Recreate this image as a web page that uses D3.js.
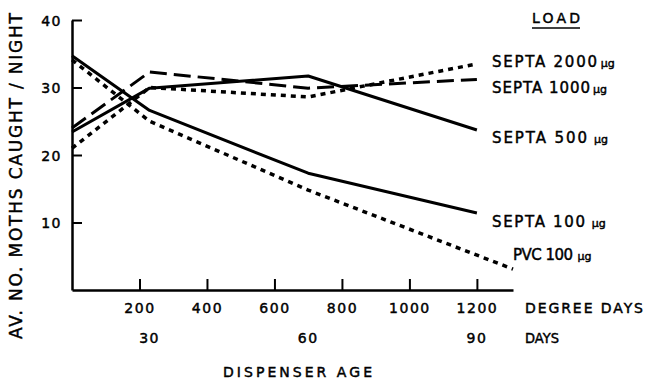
<!DOCTYPE html>
<html>
<head>
<meta charset="utf-8">
<script src="https://cdn.jsdelivr.net/npm/d3@7/dist/d3.min.js"></script>
<style>
  body { margin: 0; background: #fff; }
  svg { display: block; }
  text { font-family: "DejaVu Sans", sans-serif; fill: #000; stroke: #000; stroke-width: 0.45px; }
</style>
</head>
<body>
<div id="chart"></div>
<script>
// ---- data ----
const degreeDays = [0, 230, 700, 1200];
const pvcDegreeDays = [0, 230, 700, 1307];
const septa2000 = [21.0, 30.0, 28.6, 33.5];
const septa1000 = [24.0, 32.3, 29.9, 31.2];
const septa500 = [23.4, 29.9, 31.7, 23.7];
const septa100 = [34.7, 26.6, 17.3, 11.4];
const pvc100 = [34.1, 25.0, 14.8, 3.1];

const yTicks = [10, 20, 30, 40];
const xTicks = [200, 400, 600, 800, 1000, 1200];
const dayLabels = ["30", "60", "90"];
const dayPositions = [230, 700, 1200];

const seriesNames = ["SEPTA 2000", "SEPTA 1000", "SEPTA 500", "SEPTA 100", "PVC 100"];
const seriesUnitSpace = [false, false, true, true, true];
const seriesDash = ["5,5", "17,7", null, null, "5,5"];
const seriesWidth = [3.5, 3, 3, 3, 3.5];

// ---- layout ----
const W = 647, H = 382;
const svg = d3.select("#chart").append("svg").attr("width", W).attr("height", H);

const x = d3.scaleLinear().domain([0, 1307]).range([72, 513]);
const y = d3.scaleLinear().domain([0, 40]).range([290, 20]);

// y axis
const yAxis = svg.append("g").attr("transform", "translate(72,0)")
  .call(d3.axisLeft(y).tickValues(yTicks).tickSizeInner(-10).tickSizeOuter(0).tickPadding(10).tickFormat(d3.format("d")));
yAxis.select(".domain").attr("stroke", "#000").attr("stroke-width", 2.5);
yAxis.selectAll(".tick line").attr("stroke", "#000").attr("stroke-width", 2);
yAxis.selectAll(".tick text").attr("font-size", 14).attr("letter-spacing", 1.5)
  .attr("font-family", "DejaVu Sans").attr("fill", "#000").attr("dy", "0.36em");

// x axis
const xAxis = svg.append("g").attr("transform", "translate(0,290)")
  .call(d3.axisBottom(x).tickValues(xTicks).tickSizeInner(-11).tickSizeOuter(0).tickFormat(d3.format("d")));
xAxis.select(".domain").attr("stroke", "#000").attr("stroke-width", 2.5);
xAxis.selectAll(".tick line").attr("stroke", "#000").attr("stroke-width", 2);
xAxis.selectAll(".tick text").attr("font-size", 14).attr("letter-spacing", 1.5)
  .attr("font-family", "DejaVu Sans").attr("fill", "#000").attr("y", 23).attr("dy", 0);

// days row
svg.append("g").selectAll("text").data(dayLabels).join("text")
  .attr("x", (d, i) => x(dayPositions[i]))
  .attr("y", 343)
  .attr("text-anchor", "middle")
  .attr("font-size", 14).attr("letter-spacing", 1.5)
  .text(d => d);

// axis side labels
svg.append("text").attr("x", 525).attr("y", 313).attr("font-size", 14)
  .attr("textLength", 118).attr("lengthAdjust", "spacing").text("DEGREE DAYS");
svg.append("text").attr("x", 525).attr("y", 343).attr("font-size", 14)
  .attr("textLength", 34).attr("lengthAdjust", "spacingAndGlyphs").text("DAYS");
svg.append("text").attr("x", 223).attr("y", 377).attr("font-size", 14)
  .attr("textLength", 149).attr("lengthAdjust", "spacing").text("DISPENSER AGE");

// y title
svg.append("text")
  .attr("transform", "translate(21.5,176) rotate(-90)")
  .attr("text-anchor", "middle")
  .attr("font-size", 17)
  .attr("textLength", 326).attr("lengthAdjust", "spacing")
  .text("AV. NO. MOTHS CAUGHT / NIGHT");

// lines
const line = d3.line().x(d => x(d[0])).y(d => y(d[1]));
const allSeries = [
  { xs: degreeDays, ys: septa2000 },
  { xs: degreeDays, ys: septa1000 },
  { xs: degreeDays, ys: septa500 },
  { xs: degreeDays, ys: septa100 },
  { xs: pvcDegreeDays, ys: pvc100 }
];
allSeries.forEach((s, i) => {
  svg.append("path")
    .datum(s.xs.map((d, j) => [d, s.ys[j]]))
    .attr("d", line)
    .attr("fill", "none")
    .attr("stroke", "#000")
    .attr("stroke-width", seriesWidth[i])
    .attr("stroke-linejoin", "round")
    .attr("stroke-dasharray", seriesDash[i]);
});

// legend
svg.append("text").attr("x", 532).attr("y", 23).attr("font-size", 14)
  .attr("textLength", 48).attr("lengthAdjust", "spacing").text("LOAD");
svg.append("line").attr("x1", 532).attr("x2", 580).attr("y1", 28).attr("y2", 28)
  .attr("stroke", "#000").attr("stroke-width", 1.5);

const legendX = [492, 492, 492, 492, 513];
const legendY = [67, 93, 143, 227, 260];
const legendLen = [105, 98, 95, 93, 60];
seriesNames.forEach((name, i) => {
  const t = svg.append("text").attr("x", legendX[i]).attr("y", legendY[i]);
  t.append("tspan").attr("font-size", 15)
    .attr("textLength", legendLen[i]).attr("lengthAdjust", "spacing").text(name);
  t.append("tspan").attr("font-size", 11).attr("dx", seriesUnitSpace[i] ? 5 : 2).text("µg");
});
</script>
</body>
</html>
